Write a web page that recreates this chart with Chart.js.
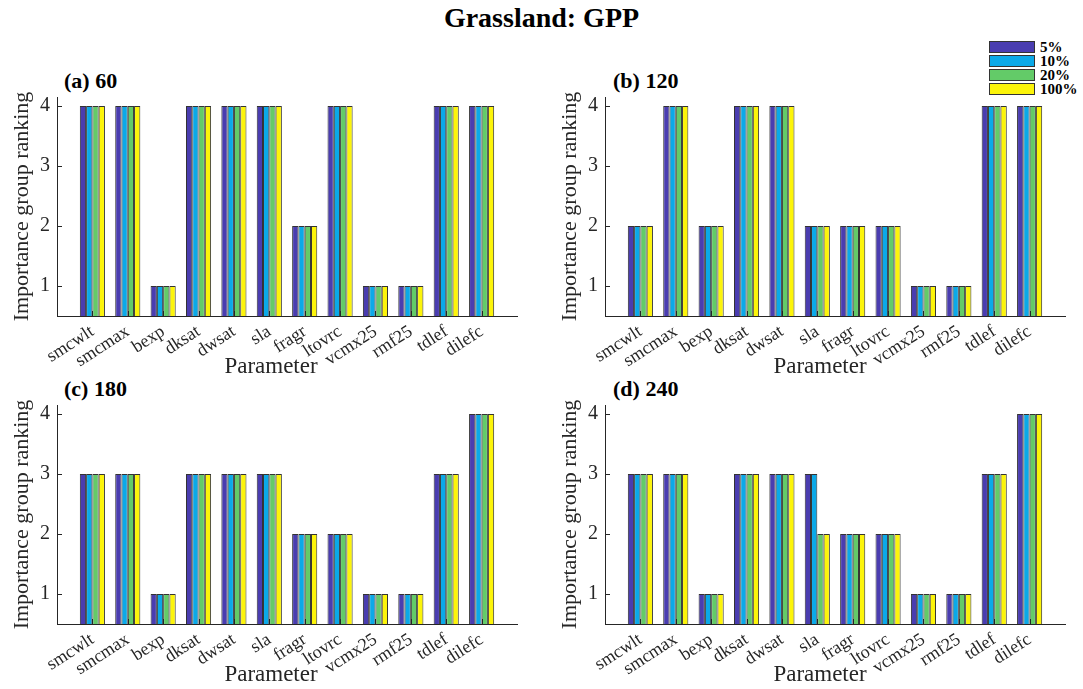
<!DOCTYPE html>
<html>
<head>
<meta charset="utf-8">
<script src="https://cdn.jsdelivr.net/npm/chart.js@4.4.1/dist/chart.umd.min.js"></script>
<style>
  body { margin: 0; width: 1083px; height: 689px; overflow: hidden; background: #fff; position: relative; font-family: 'Liberation Serif', 'Times New Roman', serif; }
  canvas { position: absolute; }
  .txt { position: absolute; font-weight: bold; color: #000; white-space: nowrap; }
  #title { left: 0; width: 1083px; top: 2px; text-align: center; font-size: 28px; }
  .panel { font-size: 22px; }
  .xlabel { position: absolute; width: 200px; text-align: center; font-size: 23px; color: #262626; line-height: 26px; }
  #legend { position: absolute; left: 989px; top: 40px; }
  .item { height: 14px; display: flex; align-items: center; font-weight: bold; font-size: 15px; }
  .swatch { width: 44px; height: 10px; border: 1px solid #333; margin-right: 5px; }
</style>
</head>
<body>
<div id="title" class="txt">Grassland: GPP</div>
<div class="txt panel" style="left:64px;top:68px">(a) 60</div>
<div class="txt panel" style="left:613px;top:68px">(b) 120</div>
<div class="txt panel" style="left:64px;top:376px">(c) 180</div>
<div class="txt panel" style="left:613px;top:376px">(d) 240</div>
<div id="legend"></div>

<canvas id="c60" width="541" height="325" style="left:0;top:60px"></canvas>
<canvas id="c120" width="541" height="325" style="left:548px;top:60px"></canvas>
<canvas id="c180" width="541" height="325" style="left:0;top:368px"></canvas>
<canvas id="c240" width="541" height="325" style="left:548px;top:368px"></canvas>

<div class="xlabel" style="left:171px;top:353px">Parameter</div>
<div class="xlabel" style="left:720px;top:353px">Parameter</div>
<div class="xlabel" style="left:171px;top:661px">Parameter</div>
<div class="xlabel" style="left:720px;top:661px">Parameter</div>

<script>
const params = ["smcwlt", "smcmax", "bexp", "dksat", "dwsat", "sla", "fragr", "ltovrc", "vcmx25", "rmf25", "tdlef", "dilefc"];
const sampleSizes = ["5%", "10%", "20%", "100%"];
const barColors = ["#4a3db0", "#0ba9e8", "#63cb68", "#fcf40a"];
const yTicks = [1, 2, 3, 4];

// one row per sample size (5%, 10%, 20%, 100%)
const rank60 = [
  [4, 4, 1, 4, 4, 4, 2, 4, 1, 1, 4, 4],
  [4, 4, 1, 4, 4, 4, 2, 4, 1, 1, 4, 4],
  [4, 4, 1, 4, 4, 4, 2, 4, 1, 1, 4, 4],
  [4, 4, 1, 4, 4, 4, 2, 4, 1, 1, 4, 4]
];
const rank120 = [
  [2, 4, 2, 4, 4, 2, 2, 2, 1, 1, 4, 4],
  [2, 4, 2, 4, 4, 2, 2, 2, 1, 1, 4, 4],
  [2, 4, 2, 4, 4, 2, 2, 2, 1, 1, 4, 4],
  [2, 4, 2, 4, 4, 2, 2, 2, 1, 1, 4, 4]
];
const rank180 = [
  [3, 3, 1, 3, 3, 3, 2, 2, 1, 1, 3, 4],
  [3, 3, 1, 3, 3, 3, 2, 2, 1, 1, 3, 4],
  [3, 3, 1, 3, 3, 3, 2, 2, 1, 1, 3, 4],
  [3, 3, 1, 3, 3, 3, 2, 2, 1, 1, 3, 4]
];
const rank240 = [
  [3, 3, 1, 3, 3, 3, 2, 2, 1, 1, 3, 4],
  [3, 3, 1, 3, 3, 3, 2, 2, 1, 1, 3, 4],
  [3, 3, 1, 3, 3, 2, 2, 2, 1, 1, 3, 4],
  [3, 3, 1, 3, 3, 2, 2, 2, 1, 1, 3, 4]
];

const axisColor = "#262626";
const serif = "'Liberation Serif', 'Times New Roman', serif";

// legend
const legend = document.getElementById("legend");
sampleSizes.forEach((s, i) => {
  const row = document.createElement("div");
  row.className = "item";
  row.innerHTML = `<span class="swatch" style="background:${barColors[i]}"></span>${s}`;
  legend.appendChild(row);
});

// small tick marks pointing into the plot
const inwardTicks = {
  id: "inwardTicks",
  afterDatasetsDraw(chart) {
    const { ctx, chartArea, scales: { x, y } } = chart;
    ctx.save();
    ctx.strokeStyle = axisColor;
    ctx.lineWidth = 1;
    ctx.beginPath();
    yTicks.forEach(v => {
      const p = Math.round(y.getPixelForValue(v)) + 0.5;
      ctx.moveTo(chartArea.left, p);
      ctx.lineTo(chartArea.left + 5, p);
    });
    params.forEach((_, i) => {
      const p = Math.round(x.getPixelForValue(i + 1)) + 0.5;
      ctx.moveTo(p, chartArea.bottom);
      ctx.lineTo(p, chartArea.bottom - 5);
    });
    ctx.stroke();
    ctx.restore();
  }
};

function makePanel(id, ranks) {
  // blank categories at both ends give the x range 0..13
  const labels = ["", ...params, ""];
  new Chart(document.getElementById(id), {
    type: "bar",
    data: {
      labels: labels,
      datasets: sampleSizes.map((s, i) => ({
        label: s,
        data: [null, ...ranks[i], null],
        backgroundColor: barColors[i],
        borderColor: "#333333",
        borderWidth: 1,
        categoryPercentage: 0.71,
        barPercentage: 1
      }))
    },
    options: {
      responsive: false,
      animation: false,
      layout: { padding: { top: 37, right: 24, left: 0, bottom: 0 } },
      plugins: { legend: { display: false }, tooltip: { enabled: false } },
      scales: {
        x: {
          offset: false,
          grid: { display: false, drawTicks: false },
          border: { display: true, color: axisColor, width: 1 },
          ticks: {
            autoSkip: false, minRotation: 33, maxRotation: 33, padding: 5,
            color: axisColor, font: { family: serif, size: 18 }
          },
          afterFit: s => { s.height = 69; }
        },
        y: {
          min: 0.5,
          max: 4.15,
          grid: { display: false, drawTicks: false },
          border: { display: true, color: axisColor, width: 1 },
          afterBuildTicks: s => { s.ticks = yTicks.map(v => ({ value: v })); },
          ticks: { padding: 7, color: axisColor, font: { family: serif, size: 20 } },
          title: {
            display: true, text: "Importance group ranking", color: axisColor,
            font: { family: serif, size: 22 }, padding: { top: 9, bottom: 0 }
          },
          afterFit: s => { s.width = 57; }
        }
      }
    },
    plugins: [inwardTicks]
  });
}

makePanel("c60", rank60);
makePanel("c120", rank120);
makePanel("c180", rank180);
makePanel("c240", rank240);
</script>
</body>
</html>
